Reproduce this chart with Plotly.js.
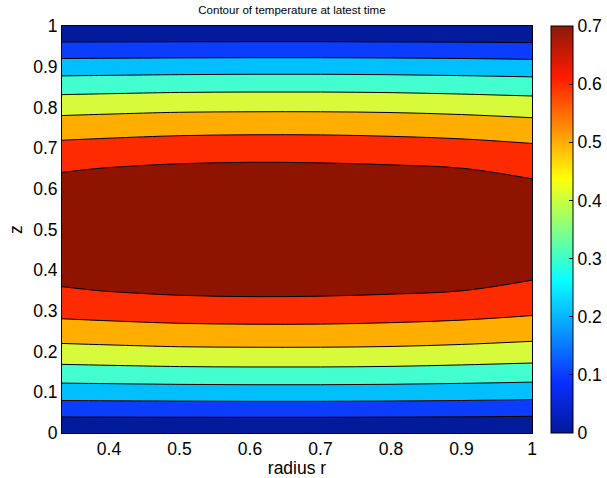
<!DOCTYPE html>
<html>
<head>
<meta charset="utf-8">
<script src="https://cdn.plot.ly/plotly-3.0.1.min.js"></script>
<style>html,body{margin:0;padding:0;background:#fff;}#chart{width:607px;height:478px;}</style>
</head>
<body>
<div id="chart"></div>
<script>
// radius r (columns) and height z (rows)
const radiusR = [0.3333, 0.4, 0.5, 0.6, 0.7, 0.8, 0.9, 1.0];
const heightZ = [0, 0.05, 0.1, 0.15, 0.2, 0.25, 0.3, 0.35, 0.4, 0.45, 0.5,
                 0.55, 0.6, 0.65, 0.7, 0.75, 0.8, 0.85, 0.9, 0.95, 1.0];
// temperature at latest time (rows = z, columns = r)
const temperature = [
  [0, 0, 0, 0, 0, 0, 0, 0],
  [0.127, 0.128, 0.129, 0.1295, 0.1295, 0.128, 0.126, 0.122],
  [0.249, 0.251, 0.254, 0.256, 0.256, 0.254, 0.250, 0.244],
  [0.362, 0.366, 0.372, 0.374, 0.374, 0.371, 0.364, 0.356],
  [0.464, 0.470, 0.478, 0.480, 0.480, 0.477, 0.468, 0.456],
  [0.554, 0.561, 0.570, 0.573, 0.573, 0.568, 0.559, 0.543],
  [0.629, 0.637, 0.647, 0.651, 0.650, 0.644, 0.634, 0.617],
  [0.691, 0.703, 0.716, 0.721, 0.719, 0.712, 0.701, 0.675],
  [0.738, 0.750, 0.764, 0.769, 0.768, 0.760, 0.748, 0.724],
  [0.767, 0.779, 0.793, 0.799, 0.797, 0.789, 0.776, 0.752],
  [0.776, 0.789, 0.803, 0.809, 0.807, 0.799, 0.786, 0.761],
  [0.767, 0.779, 0.793, 0.799, 0.797, 0.789, 0.776, 0.752],
  [0.738, 0.750, 0.764, 0.769, 0.768, 0.760, 0.748, 0.724],
  [0.691, 0.703, 0.716, 0.721, 0.719, 0.712, 0.701, 0.675],
  [0.629, 0.637, 0.647, 0.651, 0.650, 0.644, 0.634, 0.617],
  [0.554, 0.561, 0.570, 0.573, 0.573, 0.568, 0.559, 0.543],
  [0.464, 0.470, 0.478, 0.480, 0.480, 0.477, 0.468, 0.456],
  [0.362, 0.366, 0.372, 0.374, 0.374, 0.371, 0.364, 0.356],
  [0.249, 0.251, 0.254, 0.256, 0.256, 0.254, 0.250, 0.244],
  [0.127, 0.128, 0.129, 0.1295, 0.1295, 0.128, 0.126, 0.122],
  [0, 0, 0, 0, 0, 0, 0, 0]
];
const levelStart = 0.1, levelEnd = 0.7, levelStep = 0.1;
const bandColors = ['#021b9b', '#0b3dff', '#00bfff', '#43ffd0', '#d7fb3b', '#ffae00', '#ff2b00', '#8f1400'];
const xTicks = [0.4, 0.5, 0.6, 0.7, 0.8, 0.9, 1];
const xTickText = ['0.4', '0.5', '0.6', '0.7', '0.8', '0.9', '1'];
const yTicks = [0, 0.1, 0.2, 0.3, 0.4, 0.5, 0.6, 0.7, 0.8, 0.9, 1];
const yTickText = ['0', '0.1', '0.2', '0.3', '0.4', '0.5', '0.6', '0.7', '0.8', '0.9', '1'];
const cbTicks = [0, 0.1, 0.2, 0.3, 0.4, 0.5, 0.6, 0.7];
const cbTickText = ['0', '0.1', '0.2', '0.3', '0.4', '0.5', '0.6', '0.7'];
const cbMin = 0, cbMax = 0.7;

const FONT = '"Liberation Sans", Arial, Helvetica, sans-serif';
const FS = 17.5;
const bandScale = bandColors.map((c, i) => [i / (bandColors.length - 1), c]);
const jetScale = [
  [0, '#03199b'], [0.125, '#0a2eff'], [0.375, '#08ffff'],
  [0.625, '#ffff0a'], [0.875, '#ff1a00'], [1, '#8b1a0a']
];

const contourTrace = {
  type: 'contour',
  x: radiusR, y: heightZ, z: temperature,
  autocontour: false,
  contours: {start: levelStart, end: levelEnd, size: levelStep, coloring: 'fill', showlines: true},
  line: {color: '#000', width: 1, smoothing: 1},
  colorscale: bandScale,
  showscale: false,
  hoverinfo: 'skip'
};

const colorbarTrace = {
  type: 'heatmap',
  x: [-5, -4], y: [-5, -4],
  z: [[cbMin, cbMax], [cbMin, cbMax]],
  zmin: cbMin, zmax: cbMax,
  colorscale: jetScale,
  hoverinfo: 'skip',
  colorbar: {
    x: (551 - 62) / 470, xanchor: 'left', xpad: 0,
    y: 0.5, yanchor: 'middle', ypad: 0,
    len: 1, lenmode: 'fraction',
    thickness: 22, thicknessmode: 'pixels',
    outlinewidth: 1, outlinecolor: '#000',
    tickvals: cbTicks, ticktext: cbTickText,
    ticks: 'inside', ticklen: 4, tickcolor: '#000',
    tickfont: {family: FONT, size: FS, color: '#000'}
  }
};

const layout = {
  width: 607, height: 478,
  margin: {l: 62, r: 75, t: 26, b: 45, pad: 0, autoexpand: false},
  paper_bgcolor: '#fff', plot_bgcolor: '#fff',
  showlegend: false,
  font: {family: FONT, size: FS, color: '#000'},
  title: {
    text: 'Contour of temperature at latest time',
    font: {family: FONT, size: 11.5, color: '#000'},
    x: 297 / 607, xanchor: 'center', xref: 'paper',
    y: 1 - 10 / 478, yanchor: 'middle', yref: 'container'
  },
  xaxis: {
    range: [0.3333, 1], tickvals: xTicks, ticktext: xTickText,
    ticks: '', automargin: true,
    showline: true, mirror: true, linecolor: '#000', linewidth: 1,
    showgrid: false, zeroline: false,
    tickfont: {family: FONT, size: FS, color: '#000'},
    title: {text: 'radius r', font: {family: FONT, size: FS, color: '#000'}, standoff: 0}
  },
  yaxis: {
    range: [0, 1], tickvals: yTicks, ticktext: yTickText,
    ticks: '', automargin: true,
    showline: true, mirror: true, linecolor: '#000', linewidth: 1,
    showgrid: false, zeroline: false,
    tickfont: {family: FONT, size: FS, color: '#000'},
    title: {text: 'z', font: {family: FONT, size: FS, color: '#000'}, standoff: 6}
  }
};

Plotly.newPlot('chart', [contourTrace, colorbarTrace], layout, {staticPlot: true, displayModeBar: false});
</script>
</body>
</html>
